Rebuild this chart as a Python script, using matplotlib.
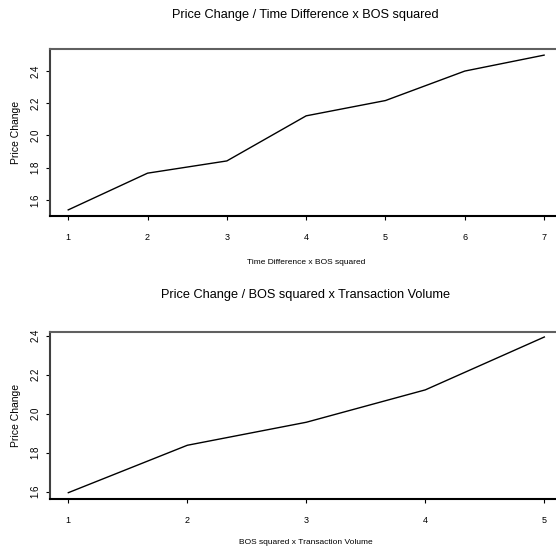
import matplotlib
matplotlib.use("Agg")
import matplotlib.pyplot as plt

plt.rcParams['font.family'] = ['Liberation Sans', 'DejaVu Sans']

x_top = [1, 2, 3, 4, 5, 6, 7]
y_top = [1.538, 1.766, 1.842, 2.122, 2.217, 2.400, 2.499]
x_bot = [1, 2, 3, 4, 5]
y_bot = [1.595, 1.838, 1.956, 2.122, 2.393]
yticks = [1.6, 1.8, 2.0, 2.2, 2.4]
ytick_labels = ["1.6", "1.8", "2.0", "2.2", "2.4"]

title_top = "Price Change / Time Difference x BOS squared"
title_bot = "Price Change / BOS squared x Transaction Volume"
xlabel_top = "Time Difference x BOS squared"
xlabel_bot = "BOS squared x Transaction Volume"
ylabel = "Price Change"

fig = plt.figure(figsize=(5.56, 5.55), dpi=100)

def style(ax, xs, ys, xlim, ylim, title, xlabel, title_y, xlabel_y):
    ax.plot(xs, ys, color='black', linewidth=1.0)
    ax.set_xlim(*xlim)
    ax.set_ylim(*ylim)
    ax.set_xticks(xs)
    ax.set_xticklabels([str(v) for v in xs], fontsize=6.5)
    ax.set_yticks(yticks)
    ax.set_yticklabels(ytick_labels, fontsize=7, rotation=90, va='center')
    ax.tick_params(axis='both', length=3, width=0.8, color='black')
    ax.tick_params(axis='x', pad=9)
    ax.tick_params(axis='y', pad=4)
    for s in ['left', 'bottom', 'top']:
        ax.spines[s].set_linewidth(1.5)
    ax.spines['left'].set_color('#404040')
    ax.spines['top'].set_color('#606060')
    ax.spines['bottom'].set_color('black')
    ax.spines['right'].set_visible(False)
    fig.text(0.55, title_y, title, ha='center', va='center', fontsize=9.2)
    fig.text(0.55, xlabel_y, xlabel, ha='center', va='center', fontsize=6)
    ax.set_ylabel(ylabel, fontsize=7.5, labelpad=7)

ax1 = fig.add_axes([0.0899, 0.6108, 0.9101, 0.3009])
style(ax1, x_top, y_top, (0.77, 7.15), (1.50, 2.537), title_top, xlabel_top,
      1 - 15/555, 1 - 262/555)

ax2 = fig.add_axes([0.0899, 0.1009, 0.9101, 0.3014])
style(ax2, x_bot, y_bot, (0.846, 5.098), (1.5626, 2.42), title_bot, xlabel_bot,
      1 - 295/555, 1 - 543/555)

fig.savefig("out.png", dpi=100)
